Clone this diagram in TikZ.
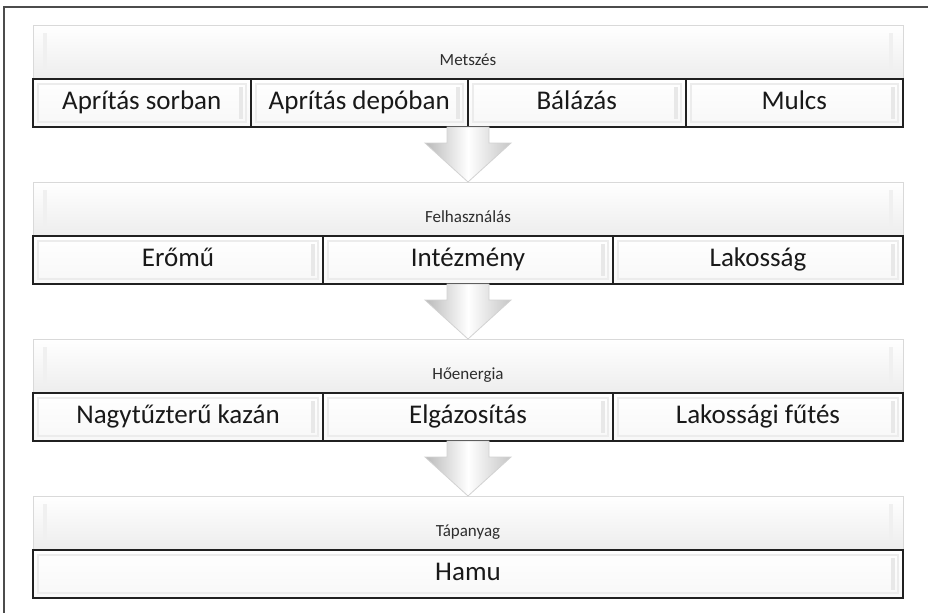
\documentclass[tikz,border=0pt]{standalone}
\usepackage{fontspec}
\setmainfont{Carlito}
\usetikzlibrary{positioning}

\tikzset{
  header/.style={rectangle, draw=gray!30, top color=white, bottom color=gray!14,
    minimum width=435pt, minimum height=27pt, inner xsep=0pt, inner ysep=7pt,
    text height=13pt, text depth=0pt, outer sep=0pt,
    font=\fontsize{8.5}{10}\selectfont, text=gray!35!black,
    path picture={\draw[gray!12, line width=2pt]
      ([shift={(6pt,-4pt)}]path picture bounding box.north west) --
      ([shift={(6pt,4pt)}]path picture bounding box.south west)
      ([shift={(-6pt,-4pt)}]path picture bounding box.north east) --
      ([shift={(-6pt,4pt)}]path picture bounding box.south east);}},
  item/.style={rectangle, draw=gray!25!black, line width=1pt, top color=white, bottom color=gray!6,
    minimum height=24pt, inner sep=0pt, outer sep=0pt,
    text height=9.5pt, text depth=3pt,
    font=\fontsize{13.5}{16}\selectfont, text=gray!20!black,
    path picture={\draw[gray!15]
      ([shift={(2.5pt,-2.5pt)}]path picture bounding box.north west) rectangle
      ([shift={(-2.5pt,2.5pt)}]path picture bounding box.south east);
      \draw[gray!18, line width=2pt]
      ([shift={(-5pt,-4pt)}]path picture bounding box.north east) --
      ([shift={(-5pt,4pt)}]path picture bounding box.south east);}},
  flow/.style={draw=gray!35, left color=gray!55, right color=gray!45, middle color=white},
  frame/.style={draw=gray!60!black, line width=0.6pt}
}

\begin{document}
\begin{tikzpicture}[x=0.5pt, y=-0.5pt]
\useasboundingbox (0,0) rectangle (928,612);
\draw[frame] (4,7) rectangle (940,620);

% --- Band 1 ---
\node[header, anchor=north west] (m1) at (33,25) {Metszés};
\node[item, minimum width=108.75pt, below right=0pt and 0pt of m1.south west] (a1) {Aprítás sorban};
\node[item, minimum width=108.75pt, right=0pt of a1] (a2) {Aprítás depóban};
\node[item, minimum width=108.75pt, right=0pt of a2] (a3) {Bálázás};
\node[item, minimum width=108.75pt, right=0pt of a3] (a4) {Mulcs};

% --- Band 2 ---
\node[header, below right=27.5pt and 0pt of a1.south west] (m2) {Felhasználás};
\node[item, minimum width=145pt, below right=0pt and 0pt of m2.south west] (b1) {Erőmű};
\node[item, minimum width=145pt, right=0pt of b1] (b2) {Intézmény};
\node[item, minimum width=145pt, right=0pt of b2] (b3) {Lakosság};

% --- Band 3 ---
\node[header, below right=27.5pt and 0pt of b1.south west] (m3) {Hőenergia};
\node[item, minimum width=145pt, below right=0pt and 0pt of m3.south west] (c1) {Nagytűzterű kazán};
\node[item, minimum width=145pt, right=0pt of c1] (c2) {Elgázosítás};
\node[item, minimum width=145pt, right=0pt of c2] (c3) {Lakossági fűtés};

% --- Band 4 ---
\node[header, below right=27.5pt and 0pt of c1.south west] (m4) {Tápanyag};
\node[item, minimum width=435pt, below right=0pt and 0pt of m4.south west] (d1) {Hamu};

% arrows between bands
\draw[flow] (a2.south east) ++(-21,0) -- ++(0,16) -- ++(-22,0) -- ++(43,39) -- ++(43,-39) -- ++(-22,0) -- ++(0,-16) -- cycle;
\draw[flow] (b2.south) ++(-21,0) -- ++(0,16) -- ++(-22,0) -- ++(43,39) -- ++(43,-39) -- ++(-22,0) -- ++(0,-16) -- cycle;
\draw[flow] (c2.south) ++(-21,0) -- ++(0,16) -- ++(-22,0) -- ++(43,39) -- ++(43,-39) -- ++(-22,0) -- ++(0,-16) -- cycle;

\end{tikzpicture}
\end{document}
